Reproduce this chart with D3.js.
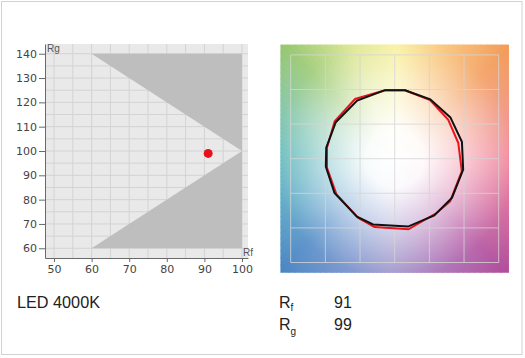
<!DOCTYPE html>
<html><head><meta charset="utf-8">
<script src="https://cdn.jsdelivr.net/npm/d3@7"></script>
<style>body{margin:0;background:#fff}svg{display:block}</style>
</head><body><svg id="c" width="525" height="358"></svg>
<script>
// ---- data ----
const xTicks = [50, 60, 70, 80, 90, 100];
const yTicks = [60, 70, 80, 90, 100, 110, 120, 130, 140];
const gridX = [50, 55, 60, 65, 70, 75, 80, 85, 90, 95, 100];
const gridY = [60, 65, 70, 75, 80, 85, 90, 95, 100, 105, 110, 115, 120, 125, 130, 135, 140];
const boundaryTop = [[60, 140], [100, 140], [100, 100]];
const boundaryBottom = [[100, 100], [100, 60], [60, 60]];
const sampleName = "LED 4000K";
const rfValue = 91;
const rgValue = 99;
// colour vector graphic: hue angle (deg) and relative chroma per bin
const refAngles = [81.5, 59.1, 36.6, 14.2, -9.1, -34.2, -55.2, -78.9, -108.2, -123, -150.3, -173.4, 170.9, 148.2, 122.8, 98];
const refRadii  = [1, 1, 1, 1, 1, 1, 1, 1, 1, 1, 1, 1, 1, 1, 1, 1];
const testAngles = [81.5, 59, 36, 13.9, -10.7, -37.7, -52.5, -79, -106.5, -121.5, -148.5, -172.4, 170.8, 148, 123.5, 98];
const testRadii  = [1.0, 0.99, 0.955, 0.945, 0.985, 1.01, 0.99, 1.04, 1.03, 1.005, 0.985, 0.985, 0.99, 1.02, 1.035, 1.0];
const cvgGrid = [-1.5, -1, -0.5, 0, 0.5, 1, 1.5];
const hueStopAngles = [0, 22.5, 45, 67.5, 90, 112.5, 135, 157.5, 180, 202.5, 225, 247.5, 270, 292.5, 315, 337.5, 360];
const hueStopColors = ["#f07890", "#f08a78", "#f39a58", "#f8c070", "#f8ee90", "#d8e488", "#98c870", "#78c0a0", "#52b2b4", "#4aa0c0", "#4a86c4", "#6a88c8", "#9288c4", "#a066b0", "#b04c9c", "#d45c92", "#f07890"];

const svg = d3.select("#c");
svg.append("rect").attr("x", 1.5).attr("y", 1.5).attr("width", 520.5).attr("height", 353)
  .attr("fill", "#fff").attr("stroke", "#d2d2d2");

// ---- left chart ----
const x = d3.scaleLinear().domain([47.6, 101.6]).range([45, 248]);
const y = d3.scaleLinear().domain([56, 144]).range([258, 44]);
const L = svg.append("g");
L.append("rect").attr("x", x.range()[0]).attr("y", y.range()[1])
  .attr("width", x.range()[1] - x.range()[0]).attr("height", y.range()[0] - y.range()[1]).attr("fill", "#e9e9e9");
L.selectAll(".gx").data(gridX).join("line")
  .attr("x1", d => x(d)).attr("x2", d => x(d)).attr("y1", y.range()[0]).attr("y2", y.range()[1])
  .attr("stroke", "#d3d3d3").attr("stroke-width", 1);
L.selectAll(".gy").data(gridY).join("line")
  .attr("y1", d => y(d)).attr("y2", d => y(d)).attr("x1", x.range()[0]).attr("x2", x.range()[1])
  .attr("stroke", "#d3d3d3").attr("stroke-width", 1);
const poly = d3.line().x(d => x(d[0])).y(d => y(d[1]));
[boundaryTop, boundaryBottom].forEach(b => {
  L.append("path").attr("d", poly(b) + "Z").attr("fill", "#bebebe");
});
const ax = L.append("g").attr("transform", `translate(${x.range()[0]},0)`)
  .call(d3.axisLeft(y).tickValues(yTicks).tickSize(6).tickSizeOuter(0).tickPadding(2));
const bx = L.append("g").attr("transform", `translate(0,${y.range()[0]})`)
  .call(d3.axisBottom(x).tickValues(xTicks).tickSize(4).tickSizeOuter(0).tickPadding(3));
[ax, bx].forEach(g => {
  g.select(".domain").attr("stroke", "#6a6a6a");
  g.selectAll(".tick line").attr("stroke", "#6a6a6a");
  g.selectAll(".tick text").attr("fill", "#444").attr("font-size", 11).attr("font-family", "DejaVu Sans, sans-serif");
});
L.append("text").attr("x", 47).attr("y", 52).text("Rg")
  .attr("font-size", 10).attr("fill", "#555").attr("font-family", "Liberation Sans, Arial, sans-serif");
L.append("text").attr("x", 243).attr("y", 256).text("Rf")
  .attr("font-size", 10).attr("fill", "#555").attr("font-family", "Liberation Sans, Arial, sans-serif");
L.append("circle").attr("cx", x(rfValue)).attr("cy", y(rgValue)).attr("r", 4.5).attr("fill", "#e8101a");

// ---- right chart: colour vector graphic ----
const cx = d3.scaleLinear().domain([-1.5, 1.5]).range([290.7, 498.7]);
const cy = d3.scaleLinear().domain([-1.5, 1.5]).range([262.5, 54.9]);
const ext = 1.645;
const R = svg.append("g");
const defs = svg.append("defs");
defs.append("clipPath").attr("id", "sq").append("rect")
  .attr("x", cx(-ext)).attr("y", cy(ext)).attr("width", cx(ext) - cx(-ext)).attr("height", cy(-ext) - cy(ext));
const hueColor = d3.scaleLinear().domain(hueStopAngles).range(hueStopColors).interpolate(d3.interpolateRgb);
const wedges = d3.range(0, 360, 2);
const Rg = R.append("g").attr("clip-path", "url(#sq)");
Rg.selectAll(".w").data(wedges).join("path")
  .attr("d", a => {
    const r = 3, a0 = (a - 1.2) * Math.PI / 180, a1 = (a + 1.2 + 2) * Math.PI / 180;
    return `M${cx(0)},${cy(0)}L${cx(r * Math.cos(a0))},${cy(r * Math.sin(a0))}L${cx(r * Math.cos(a1))},${cy(r * Math.sin(a1))}Z`;
  })
  .attr("fill", a => hueColor(a + 1));
const rg = defs.append("radialGradient").attr("id", "wh").attr("gradientUnits", "userSpaceOnUse")
  .attr("cx", cx(0)).attr("cy", cy(0)).attr("r", 160);
[[0, 1], [0.18, 0.96], [0.45, 0.6], [0.75, 0.14], [1, 0]].forEach(s =>
  rg.append("stop").attr("offset", s[0]).attr("stop-color", "#fff").attr("stop-opacity", s[1]));
Rg.append("rect").attr("x", cx(-ext)).attr("y", cy(ext)).attr("width", cx(ext) - cx(-ext)).attr("height", cy(-ext) - cy(ext))
  .attr("fill", "url(#wh)");
R.selectAll(".vg").data(cvgGrid).join("line")
  .attr("x1", d => cx(d)).attr("x2", d => cx(d)).attr("y1", cy(-1.5)).attr("y2", cy(1.5))
  .attr("stroke", "#d4d4d4").attr("stroke-opacity", 0.8);
R.selectAll(".hg").data(cvgGrid).join("line")
  .attr("y1", d => cy(d)).attr("y2", d => cy(d)).attr("x1", cx(-1.5)).attr("x2", cx(1.5))
  .attr("stroke", "#d4d4d4").attr("stroke-opacity", 0.8);
const pol = (angles, radii) => angles.map((a, i) => [radii[i] * Math.cos(a * Math.PI / 180), radii[i] * Math.sin(a * Math.PI / 180)]);
const vline = d3.line().x(d => cx(d[0])).y(d => cy(d[1])).curve(d3.curveLinearClosed);
R.append("path").attr("d", vline(pol(testAngles, testRadii))).attr("fill", "none").attr("stroke", "#e8141c").attr("stroke-width", 2);
R.append("path").attr("d", vline(pol(refAngles, refRadii))).attr("fill", "none").attr("stroke", "#111").attr("stroke-width", 2);

// ---- captions ----
const ff = "Liberation Sans, Arial, sans-serif";
svg.append("text").attr("x", 17).attr("y", 308).text(sampleName)
  .attr("font-size", 17).attr("font-family", ff).attr("fill", "#222")
  .attr("textLength", 83).attr("lengthAdjust", "spacingAndGlyphs");
const t1 = svg.append("text").attr("x", 279).attr("y", 308).attr("font-family", ff).attr("fill", "#222").attr("font-size", 16);
t1.append("tspan").text("R");
t1.append("tspan").attr("font-size", 10).attr("dy", 3).text("f");
const t2 = svg.append("text").attr("x", 279).attr("y", 330).attr("font-family", ff).attr("fill", "#222").attr("font-size", 16);
t2.append("tspan").text("R");
t2.append("tspan").attr("font-size", 10).attr("dy", 5).text("g");
svg.append("text").attr("x", 334).attr("y", 308).text(rfValue).attr("font-size", 16).attr("font-family", ff).attr("fill", "#222");
svg.append("text").attr("x", 334).attr("y", 330).text(rgValue).attr("font-size", 16).attr("font-family", ff).attr("fill", "#222");
</script></body></html>
